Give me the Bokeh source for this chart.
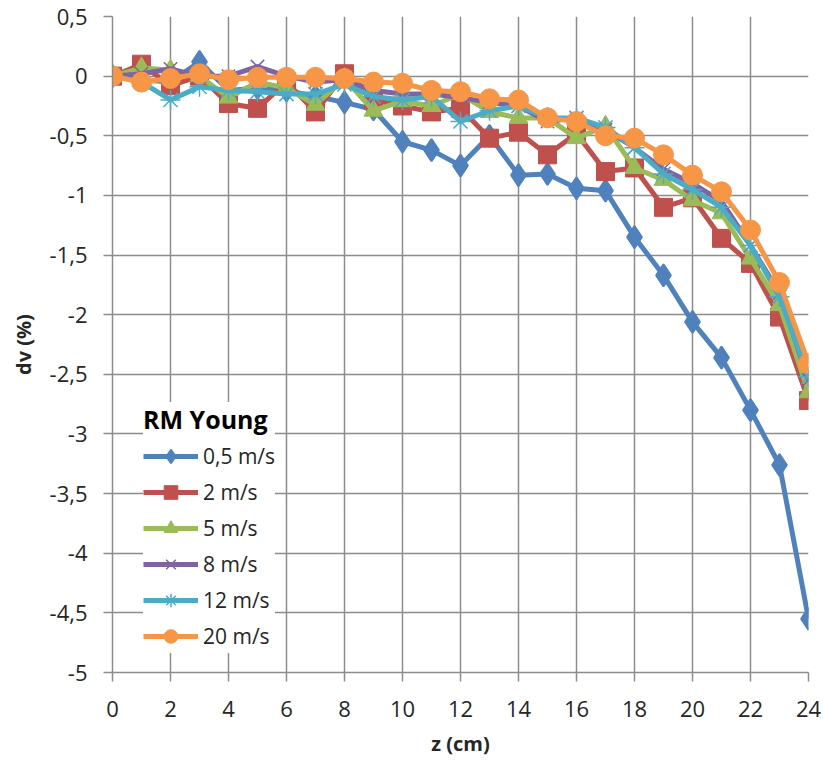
from bokeh.plotting import figure
from bokeh.models import Range1d, FixedTicker, Legend, LegendItem
from bokeh.embed import file_html
from bokeh.resources import INLINE

# ---- data ----
z_cm = list(range(25))

series_labels = ["0,5 m/s", "2 m/s", "5 m/s", "8 m/s", "12 m/s", "20 m/s"]

dv_0_5 = [0, -0.03, -0.05, 0.12, -0.12, -0.10, -0.12, -0.17, -0.22, -0.28, -0.55, -0.62,
          -0.75, -0.50, -0.83, -0.82, -0.94, -0.96, -1.35, -1.67, -2.06, -2.36, -2.80, -3.26, -4.55]
dv_2 = [0, 0.10, -0.08, 0.00, -0.23, -0.27, -0.05, -0.30, 0.02, -0.20, -0.25, -0.30,
        -0.27, -0.52, -0.47, -0.66, -0.48, -0.80, -0.77, -1.10, -1.02, -1.36, -1.57, -2.02, -2.72]
dv_5 = [0, 0.07, 0.05, 0.00, -0.18, -0.05, -0.10, -0.24, -0.02, -0.29, -0.21, -0.25,
        -0.15, -0.30, -0.35, -0.35, -0.52, -0.42, -0.77, -0.87, -1.04, -1.15, -1.53, -1.92, -2.65]
dv_8 = [0, 0.02, 0.06, 0.00, 0.00, 0.08, 0.00, -0.05, -0.03, -0.12, -0.15, -0.15,
        -0.18, -0.22, -0.25, -0.38, -0.35, -0.45, -0.60, -0.78, -0.90, -1.05, -1.42, -1.82, -2.55]
dv_12 = [0, -0.05, -0.20, -0.09, -0.12, -0.13, -0.15, -0.15, -0.07, -0.17, -0.20, -0.17,
         -0.38, -0.29, -0.25, -0.35, -0.35, -0.43, -0.60, -0.82, -0.95, -1.10, -1.42, -1.85, -2.52]
dv_20 = [0, -0.05, -0.02, 0.02, -0.03, -0.01, -0.01, -0.01, -0.02, -0.05, -0.06, -0.12,
         -0.13, -0.19, -0.20, -0.35, -0.38, -0.50, -0.52, -0.66, -0.83, -0.97, -1.29, -1.73, -2.41]

x_ticks = [0, 2, 4, 6, 8, 10, 12, 14, 16, 18, 20, 22, 24]
y_ticks = [0.5, 0, -0.5, -1, -1.5, -2, -2.5, -3, -3.5, -4, -4.5, -5]
y_tick_labels = ["0,5", "0", "-0,5", "-1", "-1,5", "-2", "-2,5", "-3", "-3,5", "-4", "-4,5", "-5"]

legend_title = "RM Young"
x_label = "z (cm)"
y_label = "dv (%)"

# ---- styles ----
FONT = "Open Sans"
GRID = "#8c8c8c"
series_values = [dv_0_5, dv_2, dv_5, dv_8, dv_12, dv_20]
colors = ["#4F81BD", "#C0504D", "#9BBB59", "#8064A2", "#4BACC6", "#F79646"]
markers = ["diamond", "square", "triangle", "x", "asterisk", "circle"]
sizes = [22, 18, 19, 19, 20, 20]
mlw = [2, 1, 1, 1.5, 1.5, 1]

p = figure(width=821, height=759, output_backend="svg", toolbar_location=None,
           x_range=Range1d(0, 24), y_range=Range1d(-5, 0.5),
           min_border_left=112, min_border_right=13, min_border_top=16, min_border_bottom=87)
p.outline_line_color = None
p.background_fill_color = "white"
p.border_fill_color = "white"

items = []
for lab, vals, c, m, s, lw in zip(series_labels, series_values, colors, markers, sizes, mlw):
    lr = p.line(z_cm, vals, line_width=5, line_color=c, line_join="round")
    sr = p.scatter(z_cm, vals, marker=m, size=s, fill_color=c, line_color=c, line_width=lw)
    items.append(LegendItem(label=lab, renderers=[lr, sr]))

p.xaxis.ticker = FixedTicker(ticks=x_ticks)
p.yaxis.ticker = FixedTicker(ticks=y_ticks)
p.yaxis.major_label_overrides = {float(t): l for t, l in zip(y_ticks, y_tick_labels)}

for ax in (p.xaxis[0], p.yaxis[0]):
    ax.axis_line_color = GRID
    ax.axis_line_width = 1.5
    ax.major_tick_line_color = GRID
    ax.major_tick_line_width = 1.5
    ax.major_tick_out = 9
    ax.major_tick_in = 0
    ax.minor_tick_line_color = None
    ax.major_label_text_font = FONT
    ax.major_label_text_font_size = "22px"
    ax.major_label_text_color = "#262626"
    ax.axis_label_text_font = FONT
    ax.axis_label_text_font_size = "20px"
    ax.axis_label_text_font_style = "bold"
    ax.axis_label_text_color = "#262626"

p.xaxis.axis_label = x_label
p.yaxis.axis_label = y_label
p.xaxis.major_label_standoff = 19
p.yaxis.major_label_standoff = 16
p.xaxis.axis_label_standoff = 10
p.yaxis.axis_label_standoff = 10

p.xgrid.grid_line_color = GRID
p.ygrid.grid_line_color = GRID
p.xgrid.grid_line_width = 1.5
p.ygrid.grid_line_width = 1.5

legend = Legend(items=items, location=(31, 19), title=legend_title)
legend.title_text_font = FONT
legend.title_text_font_size = "25px"
legend.title_text_font_style = "bold"
legend.title_text_color = "#000000"
legend.title_standoff = 3
legend.label_text_font = FONT
legend.label_text_font_size = "21px"
legend.label_text_color = "#262626"
legend.glyph_width = 55
legend.glyph_height = 34
legend.label_height = 34
legend.label_standoff = 5
legend.spacing = 2
legend.padding = 6
legend.margin = 0
legend.border_line_color = None
legend.background_fill_color = "white"
legend.background_fill_alpha = 1.0
p.add_layout(legend)

open("out.html", "w").write(file_html(p, INLINE))
